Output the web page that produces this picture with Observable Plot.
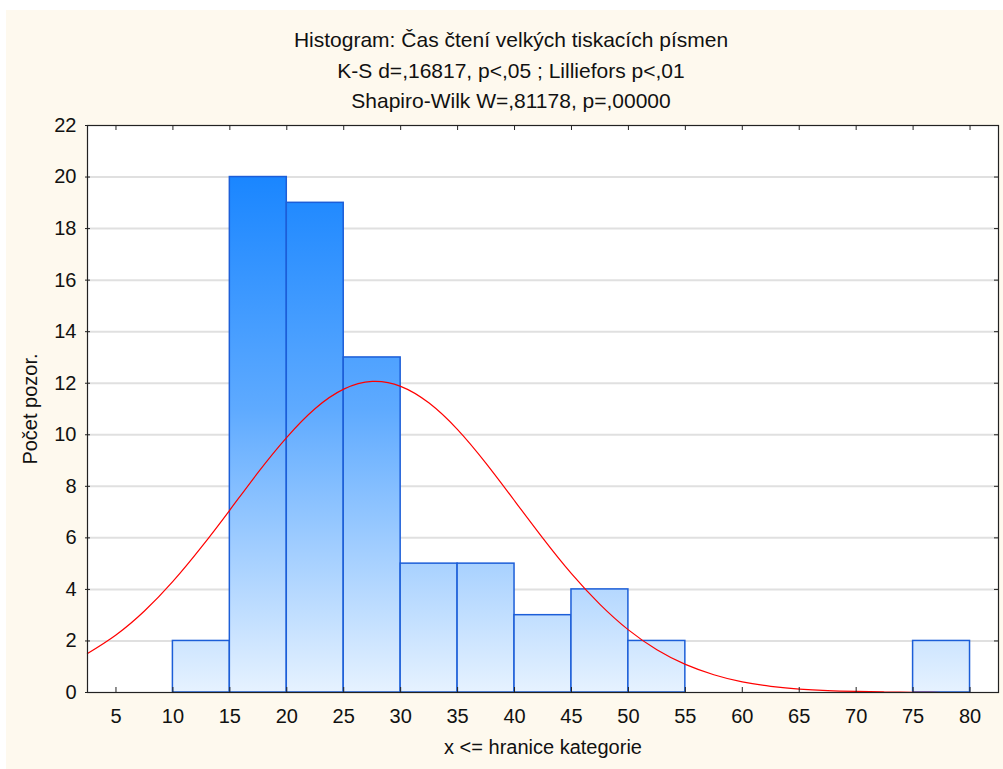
<!DOCTYPE html>
<html>
<head>
<meta charset="utf-8">
<script src="https://cdn.jsdelivr.net/npm/d3@7"></script>
<script src="https://cdn.jsdelivr.net/npm/@observablehq/plot@0.6"></script>
<style>
  html, body { margin: 0; padding: 0; background: #ffffff; width: 1003px; height: 769px; overflow: hidden; }
  #bg { position: absolute; left: 6px; top: 10px; right: 0; bottom: 0; background: #fef9ee; }
  #chart { position: absolute; left: 0; top: 0; }
</style>
</head>
<body>
<div id="bg"></div>
<div id="chart"></div>
<script>
// ---- data ----
const titleLines = [
  "Histogram: Čas čtení velkých tiskacích písmen",
  "K-S d=,16817, p<,05 ; Lilliefors p<,01",
  "Shapiro-Wilk W=,81178, p=,00000"
];
const xLabel = "x <= hranice kategorie";
const yLabel = "Počet pozor.";
const binStart = [10, 15, 20, 25, 30, 35, 40, 45, 50, 75];
const binEnd   = [15, 20, 25, 30, 35, 40, 45, 50, 55, 80];
const counts   = [2, 20, 19, 13, 5, 5, 3, 4, 2, 2];
// expected normal curve
const curveX = [2.5, 5, 7.5, 10, 12.5, 15, 17.5, 20, 22.5, 25, 27.5, 30, 32.5, 35, 37.5, 40, 42.5, 45, 47.5, 50, 52.5, 55, 57.5, 60, 62.5, 65, 67.5, 70, 72.5, 75, 77.5, 80, 82.5];
const curveY = [1.51, 2.23, 3.16, 4.31, 5.64, 7.08, 8.55, 9.90, 11.02, 11.77, 12.07, 11.88, 11.23, 10.20, 8.89, 7.44, 5.98, 4.61, 3.42, 2.43, 1.66, 1.09, 0.69, 0.41, 0.24, 0.13, 0.07, 0.04, 0.02, 0.01, 0.0, 0.0, 0.0];
const xTicks = [5, 10, 15, 20, 25, 30, 35, 40, 45, 50, 55, 60, 65, 70, 75, 80];
const yTicks = [0, 2, 4, 6, 8, 10, 12, 14, 16, 18, 20, 22];
const xDomain = [2.5, 82.5];
const yDomain = [0, 22];

// ---- layout ----
const W = 1003, H = 769;
const mTop = 125, mBottom = 77, mLeft = 87, mRight = 5;
const innerW = W - mLeft - mRight, innerH = H - mTop - mBottom;

const bars = binStart.map((s, i) => ({x1: s, x2: binEnd[i], y: counts[i]}));
const curve = curveX.map((x, i) => ({x, y: curveY[i]}));
const gridVals = yTicks.filter(v => v > yDomain[0] && v < yDomain[1]);

const gradientDefs = (index, scales) => {
  const defs = d3.create("svg:defs");
  const g = defs.append("linearGradient")
    .attr("id", "barGrad")
    .attr("gradientUnits", "userSpaceOnUse")
    .attr("x1", 0).attr("x2", 0)
    .attr("y1", scales.y(d3.max(counts)))
    .attr("y2", scales.y(0));
  g.append("stop").attr("offset", "0%").attr("stop-color", "#1a86ff");
  g.append("stop").attr("offset", "45%").attr("stop-color", "#5eaaff");
  g.append("stop").attr("offset", "100%").attr("stop-color", "#e6f2ff");
  return defs.node();
};

const centerDx = -32;
const tickFont = 20, titleFont = 21;
const plot = Plot.plot({
  width: W,
  height: H,
  marginTop: mTop,
  marginBottom: mBottom,
  marginLeft: mLeft,
  marginRight: mRight,
  style: {background: "transparent", fontFamily: "'Liberation Sans', Arial, sans-serif", fontSize: "20px", color: "#111"},
  x: {domain: xDomain, axis: null},
  y: {domain: yDomain, axis: null},
  marks: [
    gradientDefs,
    Plot.frame({fill: "white", stroke: null}),
    Plot.ruleY(gridVals, {y: d => d, stroke: "#e0e0e0", strokeWidth: 2}),
    Plot.rectY(bars, {x1: "x1", x2: "x2", y: "y", fill: "url(#barGrad)", stroke: "#1c5ed8", strokeWidth: 1.5, inset: 0}),
    Plot.line(curve, {x: "x", y: "y", stroke: "#ff0000", strokeWidth: 1.2, curve: "natural"}),
    Plot.frame({stroke: "#222", strokeWidth: 1.2}),
    // inward ticks
    Plot.tickX(xTicks, {x: d => d, insetBottom: innerH - 5, stroke: "#222"}),
    Plot.tickX(xTicks, {x: d => d, insetTop: innerH - 5, stroke: "#222"}),
    Plot.tickY(yTicks, {y: d => d, insetLeft: innerW - 4, stroke: "#222"}),
    Plot.tickY(yTicks, {y: d => d, insetRight: innerW - 3, stroke: "#222"}),
    Plot.axisX(xTicks, {anchor: "bottom", tickSize: 0, tickPadding: 16, fontSize: tickFont, label: null}),
    Plot.axisY(yTicks, {anchor: "left", tickSize: 2, tickPadding: 9, fontSize: tickFont, label: null, stroke: "#222"}),
    Plot.text([yLabel], {text: d => d, frameAnchor: "left", dx: -57, rotate: -90, textAnchor: "middle", fontSize: tickFont}),
    Plot.text([xLabel], {text: d => d, frameAnchor: "bottom", dy: 61, textAnchor: "middle", fontSize: tickFont}),
    Plot.text([titleLines[0]], {text: d => d, frameAnchor: "top", dx: centerDx, dy: -93, fontSize: titleFont}),
    Plot.text([titleLines[1]], {text: d => d, frameAnchor: "top", dx: centerDx, dy: -62, fontSize: titleFont}),
    Plot.text([titleLines[2]], {text: d => d, frameAnchor: "top", dx: centerDx, dy: -32, fontSize: titleFont})
  ]
});
document.getElementById("chart").appendChild(plot);
</script>
</body>
</html>
